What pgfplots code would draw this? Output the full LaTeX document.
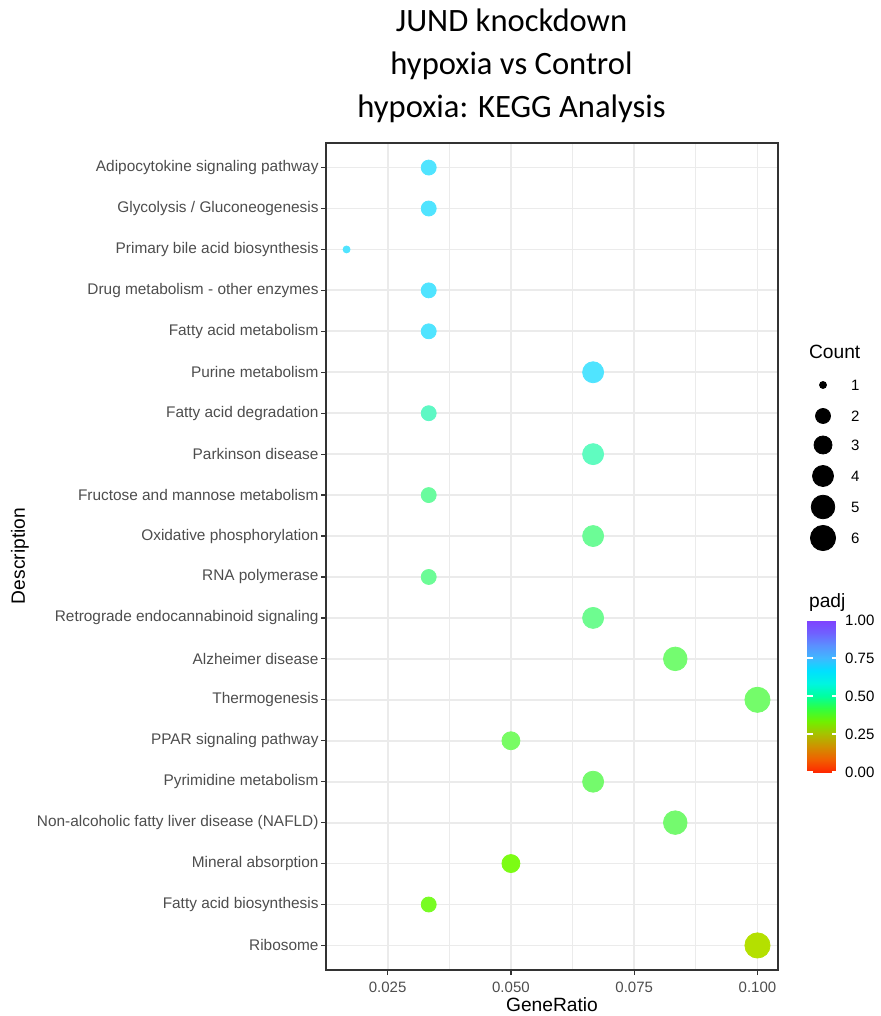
\documentclass[border=0pt]{standalone}
\usepackage{pgfplots}
\pgfplotsset{compat=1.18}
\usepackage{pgfplotstable}
\usepackage{fontspec}
\setmainfont{Liberation Sans}
\newfontfamily\titlefont{Carlito}
\definecolor{gridc}{HTML}{EBEBEB}
\definecolor{tickc}{HTML}{4D4D4D}
\definecolor{framec}{HTML}{333333}
\definecolor{cA}{HTML}{50E4FF}
\definecolor{cB}{HTML}{5EF8C4}
\definecolor{cC}{HTML}{60FCC0}
\definecolor{cD}{HTML}{6AFC9E}
\definecolor{cE}{HTML}{6CFC96}
\definecolor{cF}{HTML}{6EFC90}
\definecolor{cG}{HTML}{74FC70}
\definecolor{cH}{HTML}{74FC6A}
\definecolor{cI}{HTML}{78FC64}
\definecolor{cJ}{HTML}{74FA6C}
\definecolor{cK}{HTML}{74FA6E}
\definecolor{cL}{HTML}{7CFC14}
\definecolor{cM}{HTML}{78FC24}
\definecolor{cN}{HTML}{B4E000}

% y = category position (20 = top), x = GeneRatio, cnt = Count, r = marker radius (pt), cls = colour class (padj)
\pgfplotstableread{
y x cnt r cls
20 0.03333 2 3.75 A
19 0.03333 2 3.75 A
18 0.01667 1 1.75 A
17 0.03333 2 3.75 A
16 0.03333 2 3.75 A
15 0.06667 4 5.25 A
14 0.03333 2 3.75 B
13 0.06667 4 5.25 C
12 0.03333 2 3.75 D
11 0.06667 4 5.25 E
10 0.03333 2 3.75 E
9 0.06667 4 5.25 F
8 0.08333 5 5.90 G
7 0.10000 6 6.30 H
6 0.05000 3 4.50 I
5 0.06667 4 5.25 J
4 0.08333 5 5.90 K
3 0.05000 3 4.50 L
2 0.03333 2 3.75 M
1 0.10000 6 6.30 N
}\keggdata

% size legend: Count 1..6
\pgfplotstableread{
x y cnt r
411.5 -192.5 1 1.75
411.5 -208.0 2 3.75
411.5 -222.5 3 4.50
411.5 -238.0 4 5.25
411.5 -253.5 5 5.90
411.5 -269.0 6 6.30
}\legdata

\begin{document}
\begin{tikzpicture}
\path[use as bounding box] (0pt,0pt) rectangle (440pt,-508pt);
\begin{axis}[
  at={(163pt,-485pt)}, anchor=south west,
  scale only axis, width=226pt, height=413.5pt,
  xmin=0.0125, xmax=0.104167, ymin=0.4, ymax=20.6,
  xtick={0.025,0.05,0.075,0.1},
  xticklabels={0.025,0.050,0.075,0.100},
  minor xtick={0.0375,0.0625,0.0875},
  ytick={1,...,20},
  yticklabels={Ribosome, Fatty acid biosynthesis, Mineral absorption, Non-alcoholic fatty liver disease (NAFLD), Pyrimidine metabolism, PPAR signaling pathway, Thermogenesis, Alzheimer disease, Retrograde endocannabinoid signaling, RNA polymerase, Oxidative phosphorylation, Fructose and mannose metabolism, Parkinson disease, Fatty acid degradation, Purine metabolism, Fatty acid metabolism, Drug metabolism - other enzymes, Primary bile acid biosynthesis, Glycolysis / Gluconeogenesis, Adipocytokine signaling pathway},
  grid=both,
  major grid style={gridc, line width=0.9pt},
  minor grid style={gridc, line width=0.5pt},
  axis line style={framec, line width=0.7pt},
  tick align=outside, tick pos=left,
  major tick length=2.5pt, minor tick length=0pt,
  tick style={framec, line width=0.6pt},
  xticklabel style={font=\fontsize{7.5}{9}\selectfont, text=tickc},
  yticklabel style={font=\fontsize{7.7}{9}\selectfont, text=tickc, xshift=2.3pt},
  /pgf/number format/assume math mode=true,
  colormap={padjmap}{rgb255(0)=(255,40,0) rgb255(1)=(240,96,0) rgb255(2)=(208,144,0) rgb255(3)=(168,192,0) rgb255(4)=(112,240,0) rgb255(5)=(48,255,64) rgb255(6)=(0,255,160) rgb255(7)=(0,245,224) rgb255(8)=(0,224,255) rgb255(9)=(64,184,255) rgb255(10)=(90,144,255) rgb255(11)=(112,96,255) rgb255(12)=(128,64,255)},
  point meta min=0, point meta max=1,
  colorbar,
  colorbar style={
    at={(parent axis.south east)}, anchor=south west,
    xshift=6pt, yshift=99pt,
    width=15.5pt, height=76pt,
    ytick={0,0.25,0.5,0.75,1},
    yticklabels={0.00,0.25,0.50,0.75,1.00},
    major tick length=3pt,
    tick align=inside,
    ytick pos=both, yticklabel pos=right,
    tick style={white, line width=0.6pt},
    axis line style={draw=none},
    yticklabel style={font=\fontsize{7.5}{9}\selectfont, text=black},
  },
]
\addplot[scatter, only marks, mark=*,
  point meta=explicit symbolic,
  scatter/classes={
    A={mark=*, draw=cA, fill=cA}, B={mark=*, draw=cB, fill=cB},
    C={mark=*, draw=cC, fill=cC}, D={mark=*, draw=cD, fill=cD},
    E={mark=*, draw=cE, fill=cE}, F={mark=*, draw=cF, fill=cF},
    G={mark=*, draw=cG, fill=cG}, H={mark=*, draw=cH, fill=cH},
    I={mark=*, draw=cI, fill=cI}, J={mark=*, draw=cJ, fill=cJ},
    K={mark=*, draw=cK, fill=cK}, L={mark=*, draw=cL, fill=cL},
    M={mark=*, draw=cM, fill=cM}, N={mark=*, draw=cN, fill=cN}},
  visualization depends on={\thisrow{r} \as \perpointr},
  scatter/@pre marker code/.append style={/tikz/mark size=\perpointr},
] table[x=x, y=y, meta=cls] {\keggdata};
\end{axis}

\begin{axis}[
  at={(400pt,-280pt)}, anchor=south west,
  scale only axis, width=20pt, height=95pt,
  xmin=400, xmax=420, ymin=-280, ymax=-185,
  hide axis, clip=false,
]
\addplot[scatter, only marks, mark=*,
  scatter/use mapped color={draw=black, fill=black},
  visualization depends on={\thisrow{r} \as \perpointr},
  scatter/@pre marker code/.append style={/tikz/mark size=\perpointr},
] table[x=x, y=y] {\legdata};
\end{axis}

% titles
\node[anchor=base, font=\titlefont\fontsize{16.3}{20}\selectfont] at (255.75pt,-16pt) {JUND knockdown};
\node[anchor=base, font=\titlefont\fontsize{16.3}{20}\selectfont] at (255.75pt,-37.5pt) {hypoxia vs Control};
\node[anchor=base, font=\titlefont\fontsize{16.3}{20}\selectfont] at (255.75pt,-59pt) {hypoxia: KEGG Analysis};

% axis titles
\node[font=\fontsize{9.6}{11}\selectfont] at (276pt,-502.5pt) {GeneRatio};
\node[rotate=90, font=\fontsize{9.6}{11}\selectfont] at (10pt,-278pt) {Description};

% legend texts
\node[anchor=west, font=\fontsize{9.6}{11}\selectfont] at (401pt,-176pt) {Count};
\node[anchor=west, font=\fontsize{9.6}{11}\selectfont] at (401pt,-301.5pt) {padj};
\foreach \yy/\lab in {-192.5/1,-208/2,-222.5/3,-238/4,-253.5/5,-269/6}
  \node[anchor=west, font=\fontsize{7.5}{9}\selectfont] at (422pt,\yy pt) {\lab};
\end{tikzpicture}
\end{document}
